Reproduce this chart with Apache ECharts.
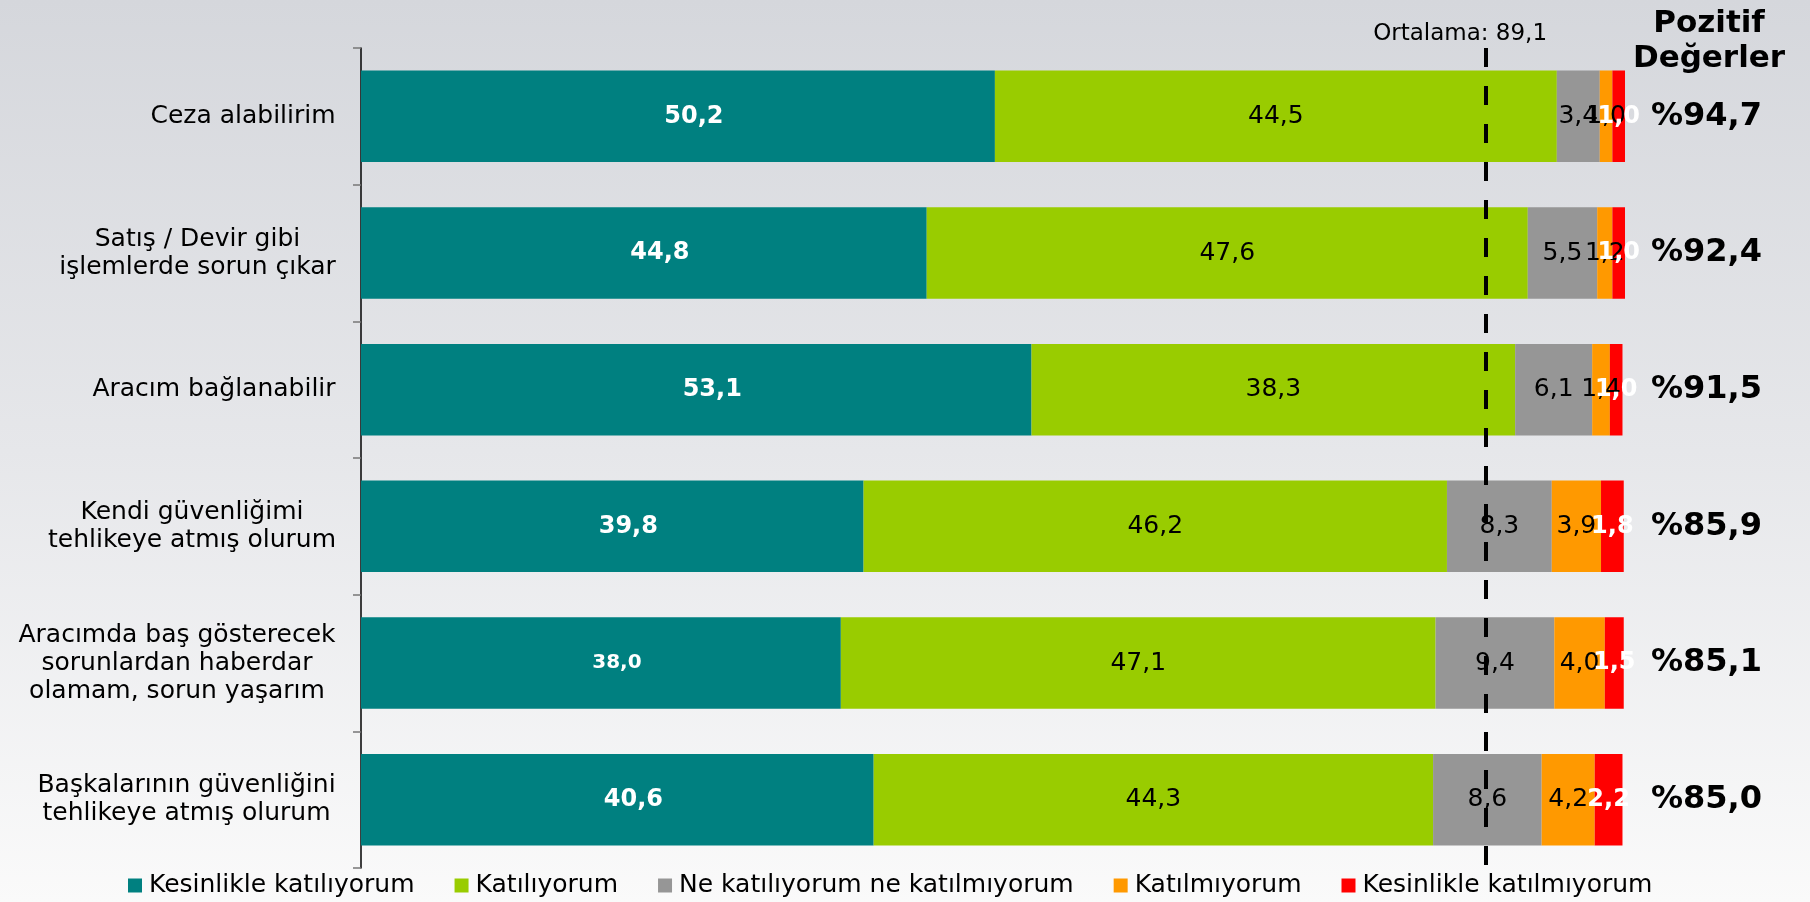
<!DOCTYPE html>
<html>
<head>
<meta charset="utf-8">
<script src="https://cdn.jsdelivr.net/npm/echarts@6/dist/echarts.min.js"></script>
<style>
  html, body { margin: 0; padding: 0; }
  #chart { width: 1810px; height: 902px; }
</style>
</head>
<body>
<div id="chart"></div>
<script>
const categories = [
  'Ceza alabilirim',
  'Satış / Devir gibi\nişlemlerde sorun çıkar',
  'Aracım bağlanabilir',
  'Kendi güvenliğimi\ntehlikeye atmış olurum',
  'Aracımda baş gösterecek\nsorunlardan haberdar\nolamam, sorun yaşarım',
  'Başkalarının güvenliğini\ntehlikeye atmış olurum'
]
const seriesNames = ['Kesinlikle katılıyorum', 'Katılıyorum', 'Ne katılıyorum ne katılmıyorum', 'Katılmıyorum', 'Kesinlikle katılmıyorum']
const strongAgree = [50.2, 44.8, 53.1, 39.8, 38.0, 40.6]
const agree = [44.5, 47.6, 38.3, 46.2, 47.1, 44.3]
const neutral = [3.4, 5.5, 6.1, 8.3, 9.4, 8.6]
const disagree = [1.0, 1.2, 1.4, 3.9, 4.0, 4.2]
const strongDisagree = [1.0, 1.0, 1.0, 1.8, 1.5, 2.2]
const positive = [94.7, 92.4, 91.5, 85.9, 85.1, 85.0]
const average = 89.1

const FONT = 'DejaVu Sans'
const colors = ['#008080', '#99cc00', '#969696', '#ff9900', '#ff0000']
const fmt = (v) => Number(v).toFixed(1).replace('.', ',')

// measure widest line so multi-line labels stay centred but right-anchored
const ctx = document.createElement('canvas').getContext('2d')
ctx.font = `25px "${FONT}"`
const catRich = {}
categories.forEach((c, i) => {
  const w = Math.max(...c.split('\n').map((l) => ctx.measureText(l).width))
  catRich['c' + i] = { width: Math.ceil(w) + 2, align: 'center', fontSize: 25, fontFamily: FONT, color: '#000', lineHeight: 28 }
})

const whiteLabel = { show: true, position: 'inside', color: '#fff', fontWeight: 'bold', fontSize: 24, fontFamily: FONT, formatter: (p) => fmt(p.value) }
const blackLabel = { show: true, position: 'inside', color: '#000', fontSize: 25, fontFamily: FONT, formatter: (p) => fmt(p.value) }

const values = [strongAgree, agree, neutral, disagree, strongDisagree]
const labels = [
  { ...whiteLabel, offset: [16, 0] },
  blackLabel, blackLabel, blackLabel,
  whiteLabel
]

const series = values.map((vals, s) => ({
  name: seriesNames[s],
  type: 'bar',
  stack: 'total',
  barCategoryGap: '33%',
  itemStyle: { color: colors[s] },
  label: labels[s],
  z: 2,
  data: s === 0 ? vals.map((v, i) => (i === 4 ? { value: v, label: { fontSize: 20 } } : v)) : vals
}))

series[4].markLine = {
  silent: true,
  symbol: 'none',
  z: 5,
  lineStyle: { color: '#000', width: 4, type: [19, 19] },
  label: {
    show: true, position: 'start', distance: 2,
    formatter: () => `Ortalama: ${fmt(average)}`,
    color: '#000', fontSize: 23, fontFamily: FONT,
    padding: [0, 52, 0, 0]
  },
  data: [{ xAxis: average }]
}

const chart = echarts.init(document.getElementById('chart'))
chart.setOption({
  backgroundColor: new echarts.graphic.LinearGradient(0, 0, 0, 1, [
    { offset: 0, color: '#d5d7dc' },
    { offset: 0.5, color: '#e6e7ea' },
    { offset: 1, color: '#fafafa' }
  ]),
  animation: false,
  textStyle: { fontFamily: FONT },
  color: colors,
  legend: {
    left: 123, top: 868,
    itemWidth: 14, itemHeight: 14, itemGap: 40,
    icon: 'rect',
    textStyle: { color: '#000', fontSize: 25, fontFamily: FONT, padding: [0, 0, 0, 2] },
    data: seriesNames
  },
  grid: { left: 361, right: 161, top: 48, bottom: 34 },
  xAxis: {
    type: 'value', min: 0, max: 102,
    axisLine: { show: false }, axisTick: { show: false },
    axisLabel: { show: false }, splitLine: { show: false }
  },
  yAxis: [{
    type: 'category', inverse: true, data: categories,
    axisLine: { lineStyle: { color: '#000', width: 1.5 } },
    axisTick: { show: true, length: 8, lineStyle: { color: '#777', width: 1.5 } },
    axisLabel: {
      margin: 24,
      formatter: (val, i) => val.split('\n').map((l) => `{c${i}|${l}}`).join('\n'),
      rich: catRich
    }
  }, {
    type: 'category', inverse: true, position: 'right',
    data: positive.map((v) => `%${fmt(v)}`),
    axisLine: { show: false }, axisTick: { show: false },
    axisLabel: { margin: 2, color: '#000', fontSize: 32, fontWeight: 'bold', fontFamily: FONT, align: 'left' }
  }],
  graphic: [{
    type: 'text', x: 1709, y: 6,
    style: {
      text: 'Pozitif\nDeğerler', align: 'center', verticalAlign: 'top',
      font: `bold 31px "${FONT}"`, lineHeight: 35, fill: '#000'
    }
  }],
  series
})
window.addEventListener('resize', () => chart.resize())
</script>
</body>
</html>
